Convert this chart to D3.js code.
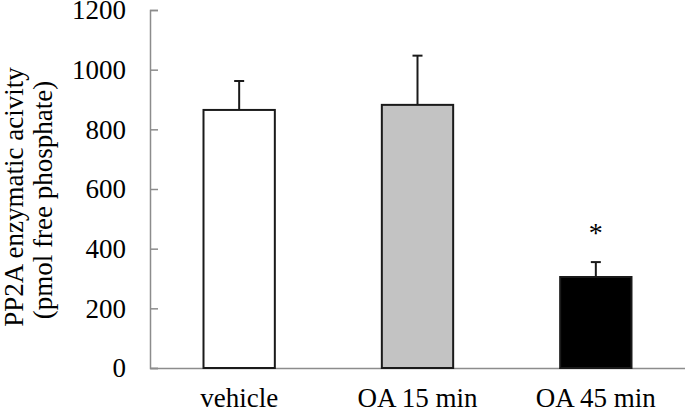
<!DOCTYPE html>
<html>
<head>
<meta charset="utf-8">
<script src="https://cdn.jsdelivr.net/npm/d3@7.9.0/dist/d3.min.js"></script>
<style>
  html, body { margin: 0; padding: 0; background: #fff; }
  svg { display: block; }
  text { font-family: "Liberation Serif", "Times New Roman", serif; fill: #000; }
</style>
</head>
<body>
<div id="chart"></div>
<script>
const categories = ["vehicle", "OA 15 min", "OA 45 min"];
const means = [865, 882, 305];
const errors = [97, 165, 50];
const fills = ["#ffffff", "#c3c3c3", "#000000"];
const significant = [false, false, true];
const yTicks = [0, 200, 400, 600, 800, 1000, 1200];

const width = 685;
const height = 410;
const margin = { top: 10, right: 0, bottom: 42, left: 150 };

const svg = d3.select('#chart')
    .append('svg')
    .attr('width', width)
    .attr('height', height);

const x = d3.scaleBand()
    .domain(categories)
    .range([margin.left, width - margin.right])
    .paddingInner(0.6)
    .paddingOuter(0.3);

const y = d3.scaleLinear()
    .domain([0, 1200])
    .range([height - margin.bottom, margin.top]);

const axisColor = '#8c8c8c';

// y axis, ticks pointing into the plot
const yAxis = svg.append('g')
    .attr('transform', `translate(${margin.left},0)`)
    .call(d3.axisRight(y).tickValues(yTicks).tickSize(8).tickFormat(''));
yAxis.select('.domain').attr('stroke', axisColor).attr('stroke-width', 1.5);
yAxis.selectAll('.tick line').attr('stroke', axisColor).attr('stroke-width', 1.5);

svg.append('g')
    .selectAll('text')
    .data(yTicks)
    .join('text')
    .attr('x', 126)
    .attr('y', d => y(d))
    .attr('dy', '0.34em')
    .attr('text-anchor', 'end')
    .style('font-size', '27px')
    .text(d => d);

// x axis baseline
const xAxis = svg.append('g')
    .attr('transform', `translate(0,${y(0)})`)
    .call(d3.axisBottom(x).tickSize(0).tickFormat(''));
xAxis.select('.domain').attr('stroke', axisColor).attr('stroke-width', 1.5);

svg.append('g')
    .selectAll('text')
    .data(categories)
    .join('text')
    .attr('x', d => x(d) + x.bandwidth() / 2)
    .attr('y', 407)
    .attr('text-anchor', 'middle')
    .style('font-size', '27px')
    .text(d => d);

// error bars (upper only)
const err = svg.append('g').attr('stroke', '#1a1a1a').attr('stroke-width', 2);
categories.forEach((c, i) => {
    const cx = x(c) + x.bandwidth() / 2;
    err.append('line')
        .attr('x1', cx).attr('x2', cx)
        .attr('y1', y(means[i])).attr('y2', y(means[i] + errors[i]));
    err.append('line')
        .attr('x1', cx - 5).attr('x2', cx + 5)
        .attr('y1', y(means[i] + errors[i])).attr('y2', y(means[i] + errors[i]));
});

// bars
svg.append('g')
    .selectAll('rect')
    .data(categories)
    .join('rect')
    .attr('x', d => x(d))
    .attr('y', (d, i) => y(means[i]))
    .attr('width', x.bandwidth())
    .attr('height', (d, i) => y(0) - y(means[i]))
    .attr('fill', (d, i) => fills[i])
    .attr('stroke', '#1a1a1a')
    .attr('stroke-width', 2);

// significance marker
svg.append('g')
    .selectAll('text')
    .data(categories.filter((c, i) => significant[i]))
    .join('text')
    .attr('x', d => x(d) + x.bandwidth() / 2)
    .attr('y', d => {
        const i = categories.indexOf(d);
        return y(means[i] + errors[i]) - 40;
    })
    .attr('dy', '0.7em')
    .attr('text-anchor', 'middle')
    .style('font-size', '28px')
    .text('*');

// y axis title
svg.append('text')
    .attr('transform', 'translate(23,197) rotate(-90)')
    .attr('text-anchor', 'middle')
    .style('font-size', '27px')
    .text('PP2A enzymatic acivity');
svg.append('text')
    .attr('transform', 'translate(52,200) rotate(-90)')
    .attr('text-anchor', 'middle')
    .style('font-size', '27px')
    .text('(pmol free phosphate)');
</script>
</body>
</html>
